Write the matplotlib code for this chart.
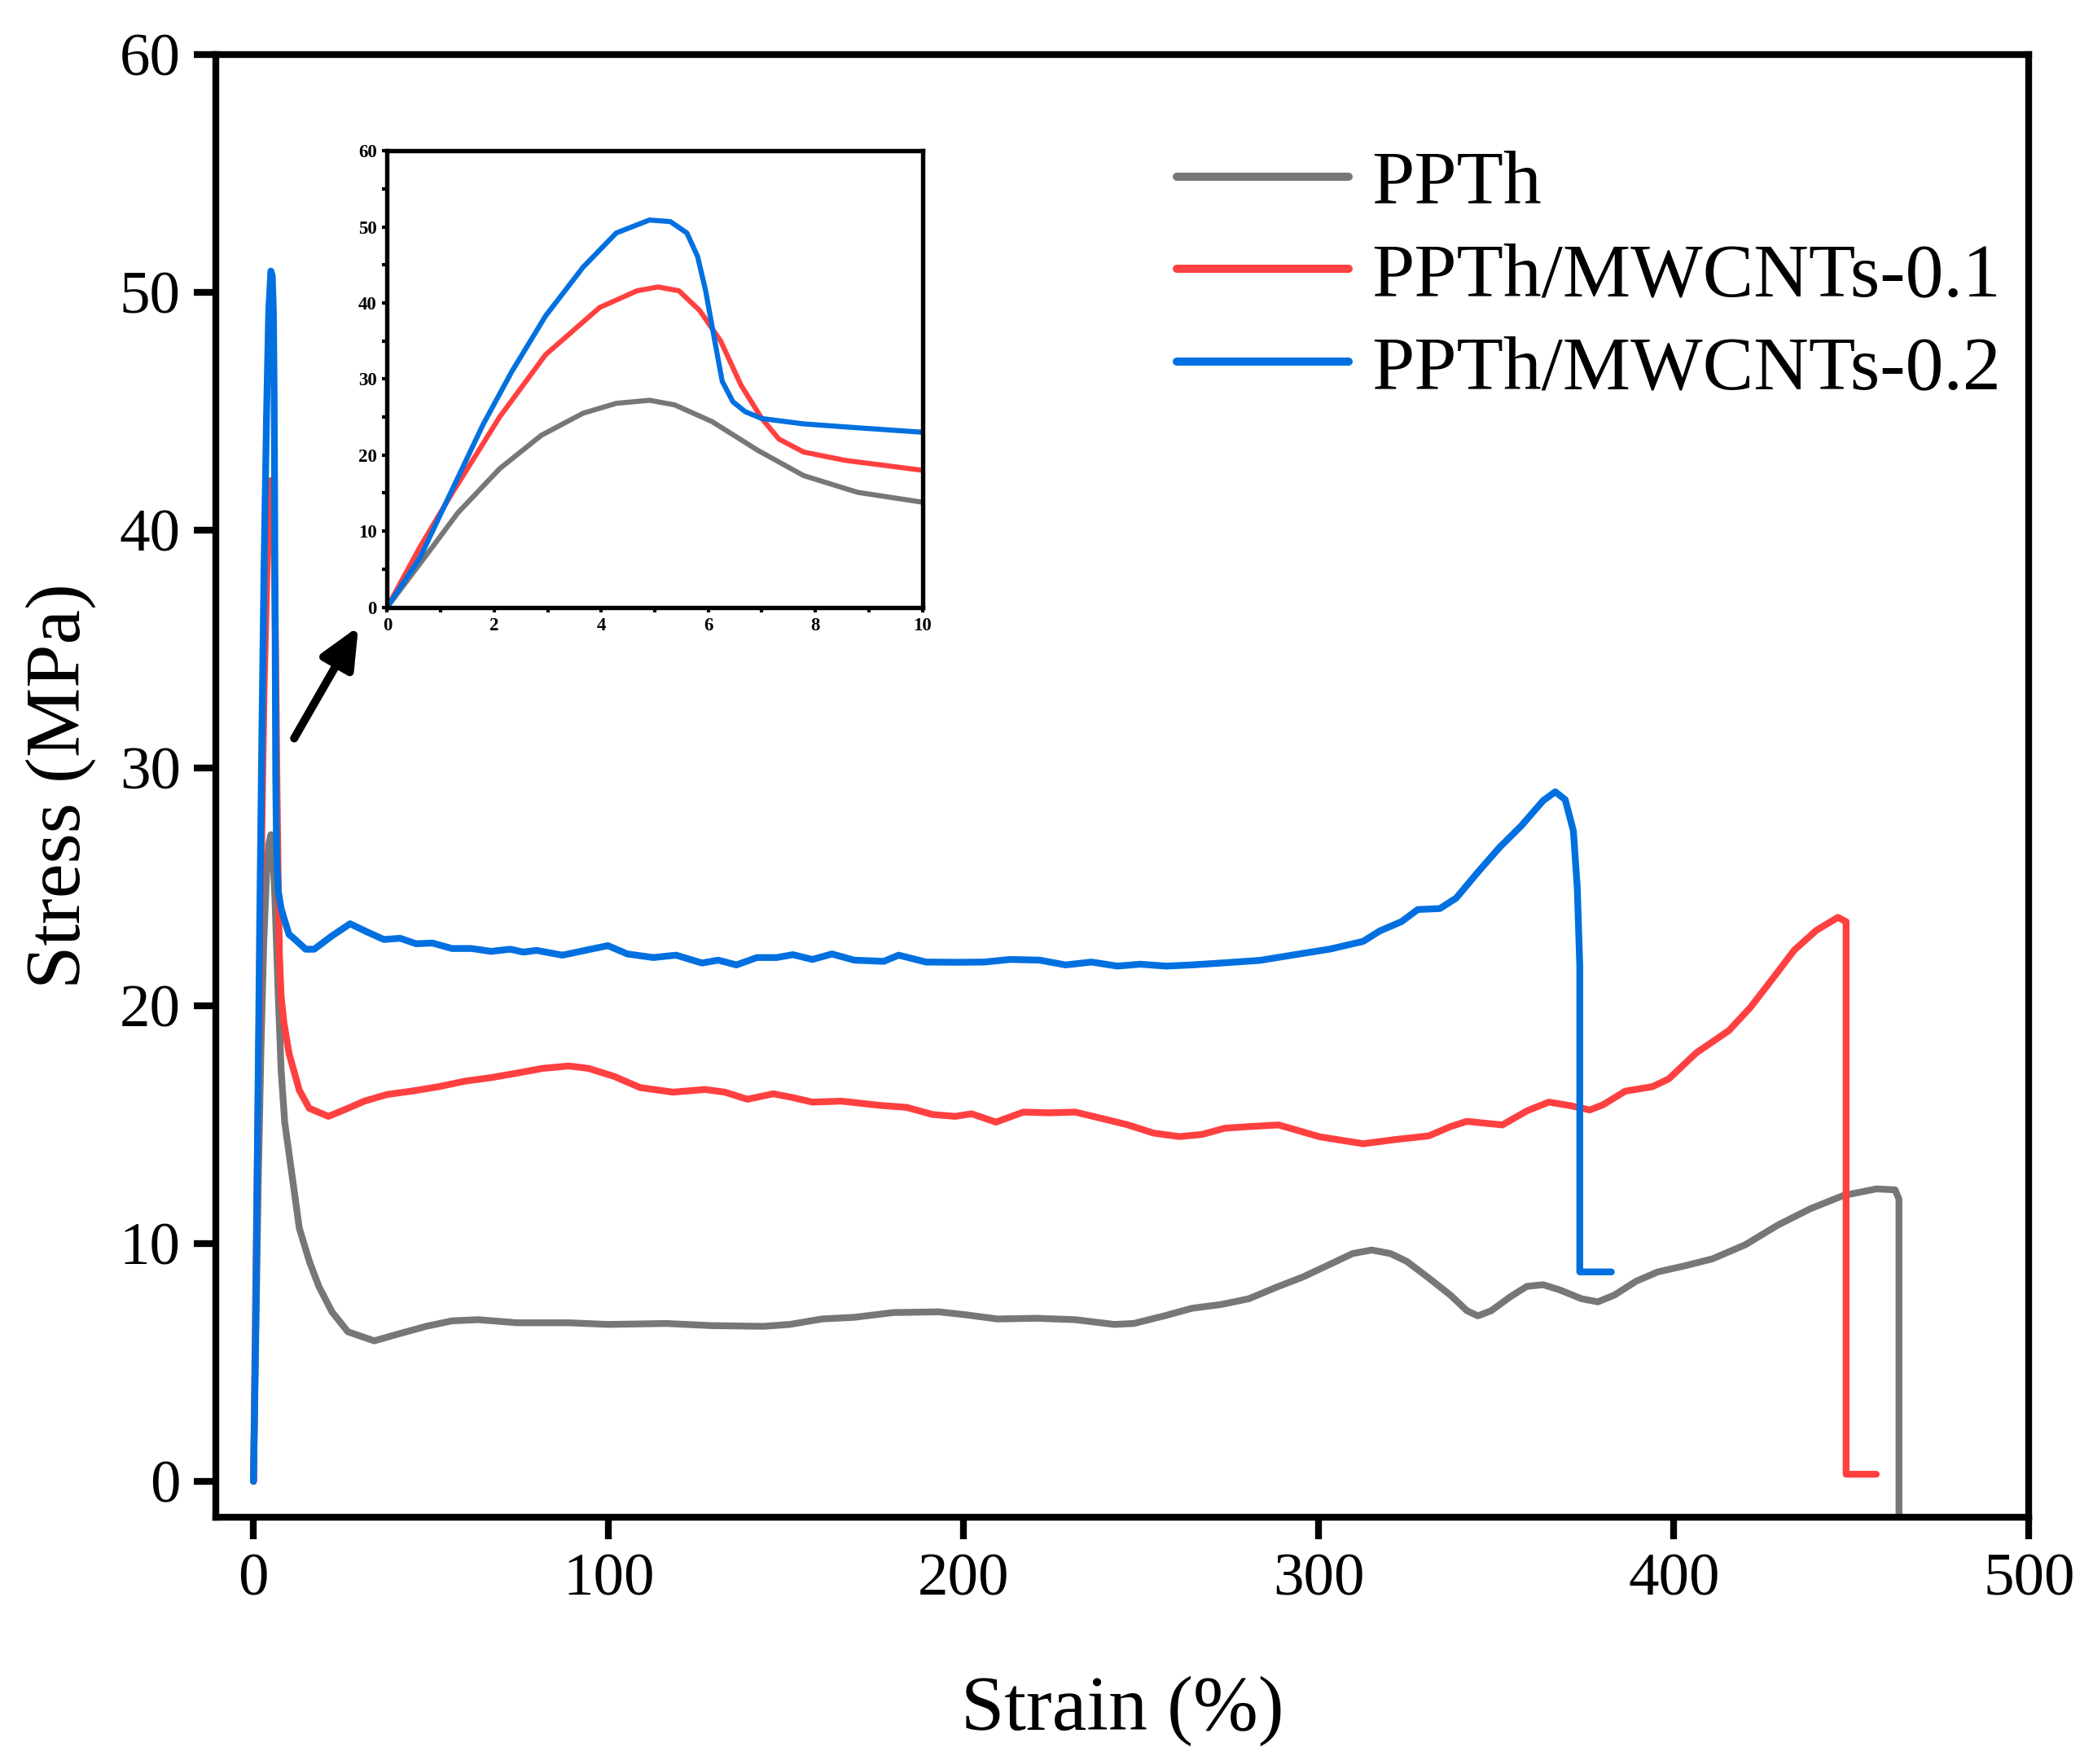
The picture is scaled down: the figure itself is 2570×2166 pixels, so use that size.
import numpy as np
import matplotlib
matplotlib.use('Agg')
import matplotlib.pyplot as plt

plt.rcParams['font.family'] = ['Liberation Serif', 'DejaVu Serif']

# ---- data ----
# PPTh
ppth_x = [0, 0.62, 1.32, 2.1, 2.88, 3.66, 4.28, 4.9, 5.37, 6.07, 6.93, 7.78, 8.79, 10,
          12.9, 15.7, 18.4, 22.1, 26.6, 34.0, 41.3, 48.6, 55.9, 63.2, 74.2, 88.8, 99.8, 116.2,
          129.0, 143.6, 151.0, 160.1, 169.2, 180.2, 193.0, 200.3, 209.5, 220.4, 231.4, 242.4,
          247.9, 257.0, 264.3, 272.6, 280.3, 288.0, 295.6, 303.3, 309.5, 314.9, 320.2, 324.8,
          331.0, 337.1, 341.7, 344.8, 348.6, 354.0, 358.6, 363.2, 367.9, 374.0, 378.6, 383.2,
          389.4, 395.5, 403.2, 410.9, 420.1, 429.3, 438.5, 447.7, 457.0, 462.3, 463.4, 463.4]
ppth_y = [0, 5.8, 12.4, 18.2, 22.6, 25.5, 26.8, 27.2, 26.6, 24.4, 20.6, 17.3, 15.1, 13.8,
          10.65, 9.27, 8.2, 7.13, 6.29, 5.91, 6.22, 6.52, 6.75, 6.8, 6.67, 6.67, 6.6, 6.64,
          6.55, 6.52, 6.6, 6.83, 6.9, 7.1, 7.13, 7.01, 6.83, 6.86, 6.8, 6.6,
          6.64, 6.98, 7.28, 7.44, 7.68, 8.16, 8.6, 9.14, 9.58, 9.73, 9.58, 9.25,
          8.55, 7.83, 7.18, 6.96, 7.18, 7.77, 8.2, 8.27, 8.05, 7.68, 7.55, 7.83,
          8.42, 8.81, 9.07, 9.36, 9.95, 10.78, 11.47, 12.02, 12.3, 12.26, 11.87, -3]

# PPTh/MWCNTs-0.1
cnt1_x = [0, 0.62, 1.17, 2.1, 2.96, 3.97, 4.67, 5.06, 5.45, 5.84, 6.23, 6.61, 7.0, 7.32,
          7.78, 8.56, 10, 12.9, 15.7, 21.1, 26.6, 31.2, 37.6, 44.9, 52.2, 59.5, 66.9, 74.2,
          81.5, 88.8, 94.3, 101.6, 108.9, 118.1, 127.2, 132.7, 139.1, 146.4, 151.9, 157.4,
          165.6, 176.6, 183.9, 191.2, 197.6, 202.2, 209.1, 216.8, 224.1, 231.4, 238.7, 246.1,
          253.4, 260.7, 267.1, 273.5, 280.3, 288.7, 300.3, 312.5, 321.8, 331.0, 337.1, 341.7,
          351.7, 358.6, 364.8, 370.9, 376.3, 380.1, 386.3, 394.0, 398.6, 406.3, 415.5, 421.6,
          427.8, 433.9, 440.1, 446.2, 448.5, 448.5, 457.0]
cnt1_y = [0, 8.0, 14.5, 25.0, 33.2, 39.4, 41.6, 42.1, 41.6, 39.0, 35.0, 29.2, 24.8, 22.1,
          20.4, 19.3, 18.0, 16.45, 15.69, 15.35, 15.69, 15.99, 16.27, 16.42, 16.6, 16.83, 16.98, 17.17,
          17.37, 17.47, 17.37, 17.03, 16.56, 16.37, 16.48, 16.37, 16.07, 16.3, 16.14, 15.95,
          15.99, 15.81, 15.73, 15.43, 15.35, 15.46, 15.11, 15.53, 15.5, 15.53, 15.27, 15.0,
          14.65, 14.5, 14.59, 14.85, 14.92, 14.99, 14.49, 14.2, 14.38, 14.53, 14.92, 15.14,
          14.99, 15.58, 15.95, 15.8, 15.62, 15.84, 16.41, 16.6, 16.93, 18.02, 18.96, 19.94,
          21.14, 22.34, 23.17, 23.72, 23.54, 0.3, 0.3]

# PPTh/MWCNTs-0.2
cnt2_x = [0, 0.62, 1.17, 1.79, 2.33, 2.96, 3.66, 4.28, 4.9, 5.29, 5.6, 5.8, 5.95, 6.11,
          6.26, 6.46, 6.69, 7.0, 7.78, 8.56, 10, 11.1, 14.7, 17.1, 22.1, 27.2, 32.1, 36.7,
          41.3, 45.8, 50.4, 55.9, 61.4, 66.9, 72.3, 76.0, 79.7, 87.0, 94.3, 99.8, 105.3,
          112.6, 119.0, 126.3, 130.9, 136.0, 141.8, 147.3, 151.9, 157.4, 162.9, 169.2, 177.5,
          181.7, 189.4, 198.5, 205.8, 213.1, 221.4, 228.7, 236.0, 243.3, 249.7, 257.0, 264.3,
          272.6, 283.4, 294.1, 303.3, 312.5, 317.2, 323.3, 327.9, 334.1, 338.7, 344.8, 350.9,
          357.1, 363.2, 366.6, 369.4, 371.7, 372.8, 373.5, 373.5, 382.4]
cnt2_y = [0, 6.6, 14.8, 24.0, 31.0, 38.3, 44.7, 49.2, 50.9, 50.7, 49.2, 46.1, 41.6, 35.4,
          29.7, 27.0, 25.7, 24.8, 24.1, 23.7, 23.0, 22.87, 22.38, 22.38, 22.94, 23.45, 23.1, 22.79,
          22.84, 22.61, 22.64, 22.41, 22.41, 22.29, 22.38, 22.26, 22.33, 22.13, 22.36, 22.53, 22.18,
          22.03, 22.13, 21.8, 21.92, 21.72, 22.03, 22.03, 22.15, 21.95, 22.18, 21.92, 21.87,
          22.13, 21.84, 21.83, 21.84, 21.95, 21.92, 21.72, 21.84, 21.67, 21.75, 21.67, 21.72,
          21.8, 21.91, 22.17, 22.39, 22.71, 23.15, 23.54, 24.05, 24.09, 24.53, 25.62, 26.66,
          27.58, 28.63, 29.0, 28.67, 27.36, 24.96, 21.69, 8.81, 8.81]

labels = ['PPTh', 'PPTh/MWCNTs-0.1', 'PPTh/MWCNTs-0.2']
colors = ['#777777', '#ff4040', '#0070e0']
series = [(ppth_x, ppth_y), (cnt1_x, cnt1_y), (cnt2_x, cnt2_y)]

fig = plt.figure(figsize=(2570 / 300, 2166 / 300), dpi=300)
ax = fig.add_axes([0.1033, 0.140, 0.8661, 0.829])

for (xs, ys), c, lab in zip(series, colors, labels):
    ax.plot(xs, ys, color=c, lw=2.0, label=lab, solid_capstyle='round', solid_joinstyle='round')

ax.set_xlim(-10.5, 500)
ax.set_ylim(-1.5, 60)
ax.set_xticks(np.arange(0, 501, 100))
ax.set_yticks(np.arange(0, 61, 10))
ax.tick_params(direction='out', length=6.5, width=2.0, labelsize=18, pad=4)
for sp in ax.spines.values():
    sp.set_linewidth(2.0)
ax.set_xlabel('Strain (%)', fontsize=23, labelpad=20)
ax.set_ylabel('Stress (MPa)', fontsize=23, labelpad=7)

leg = ax.legend(loc='upper left', bbox_to_anchor=(0.530, 0.935), frameon=False,
                fontsize=22.5, handlelength=2.25, handletextpad=0.3, labelspacing=0.3,
                borderpad=0, borderaxespad=0)
for h in leg.get_lines():
    h.set_linewidth(2.4)

ax.annotate('', xy=(30.5, 36.2), xytext=(10.5, 31.0),
            arrowprops=dict(arrowstyle='-|>,head_length=1.0,head_width=0.45', color='black', lw=2.4))

# ---- inset ----
ins = fig.add_axes([0.185, 0.6558, 0.2557, 0.2587])
for (xs, ys), c in zip(series, colors):
    ins.plot(xs, ys, color=c, lw=1.5, solid_joinstyle='round')
ins.set_xlim(0, 10)
ins.set_ylim(0, 60)
ins.set_xticks(np.arange(0, 11, 2))
ins.set_xticks(np.arange(1, 10, 2), minor=True)
ins.set_yticks(np.arange(0, 61, 10))
ins.set_yticks(np.arange(5, 60, 10), minor=True)
ins.tick_params(which='both', direction='out', length=1.5, width=1.0, labelsize=5.5, pad=1.5)
for lab in ins.get_xticklabels() + ins.get_yticklabels():
    lab.set_fontweight('bold')
for sp in ins.spines.values():
    sp.set_linewidth(1.3)

fig.savefig('out.png', dpi=300)
